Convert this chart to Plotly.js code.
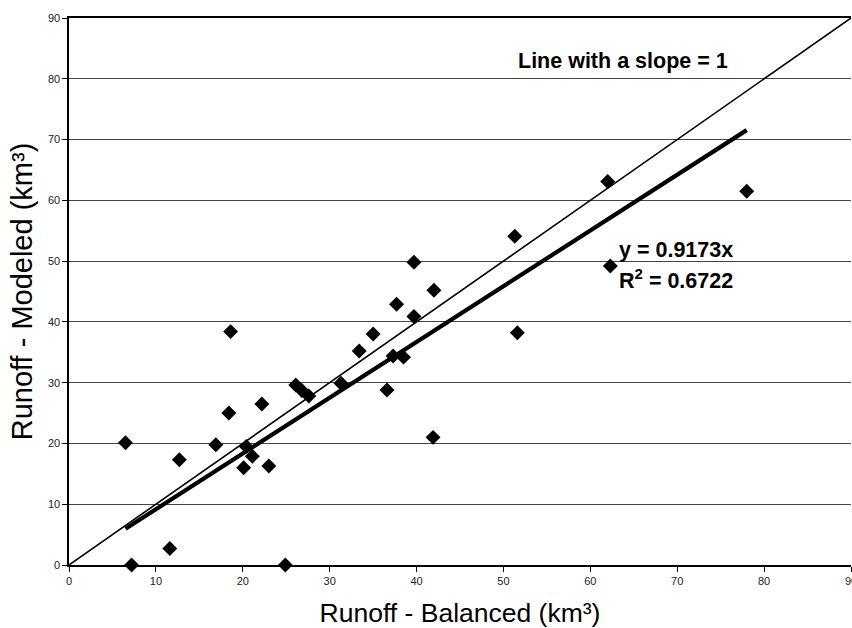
<!DOCTYPE html>
<html>
<head>
<meta charset="utf-8">
<script src="https://cdn.plot.ly/plotly-3.0.1.min.js"></script>
<style>html,body{margin:0;padding:0;background:#fff;}#chart{width:852px;height:628px;}</style>
</head>
<body>
<div id="chart"></div>
<script>
// Runoff values (km³)
const balanced = [6.5, 7.2, 11.6, 12.7, 16.9, 18.4, 18.6, 20.1, 20.4, 21.1, 22.2, 23.0, 24.9, 26.1, 26.8, 27.6, 31.3, 33.4, 35.0, 36.6, 37.3, 37.7, 38.5, 39.7, 39.7, 41.9, 42.0, 51.3, 51.6, 62.0, 62.3, 78.0];
const modeled  = [20.1, 0.0, 2.7, 17.3, 19.8, 25.0, 38.4, 16.0, 19.5, 17.9, 26.5, 16.3, 0.0, 29.6, 28.7, 27.8, 29.9, 35.2, 38.0, 28.8, 34.4, 42.9, 34.2, 40.9, 49.8, 21.0, 45.2, 54.1, 38.2, 63.1, 49.2, 61.5];
const trendSlope = 0.9173;
const rSquared = 0.6722;
const axisMax = 90;
const tickVals = [0, 10, 20, 30, 40, 50, 60, 70, 80, 90];

const xMin = Math.min(...balanced), xMax = Math.max(...balanced);

const traces = [
  { // line with slope 1
    x: [0, axisMax], y: [0, axisMax], mode: 'lines',
    line: {color: '#000', width: 1.6}, hoverinfo: 'skip', showlegend: false
  },
  { // linear trend through origin
    x: [xMin, xMax], y: [trendSlope * xMin, trendSlope * xMax], mode: 'lines',
    line: {color: '#000', width: 4.2}, hoverinfo: 'skip', showlegend: false
  },
  {
    x: balanced, y: modeled, mode: 'markers', type: 'scatter',
    marker: {symbol: 'diamond', size: 11.5, color: '#000'}, showlegend: false, cliponaxis: false
  }
];

const font = 'Liberation Sans, Arial, sans-serif';
const layout = {
  width: 852, height: 628,
  margin: {l: 68.5, r: 0.5, t: 17.5, b: 63},
  paper_bgcolor: '#fff', plot_bgcolor: '#fff',
  font: {family: font, color: '#000'},
  xaxis: {
    range: [0, axisMax], tickvals: tickVals, ticktext: tickVals.map(String),
    showgrid: false, zeroline: false,
    showline: true, linecolor: '#000', linewidth: 1.6, mirror: true,
    ticks: 'outside', ticklen: 5, tickcolor: '#000', tickwidth: 1,
    ticklabeloverflow: 'allow',
    tickfont: {family: font, size: 11, color: '#222'},
    title: {text: 'Runoff - Balanced (km³)', font: {family: font, size: 26.5, color: '#000'}, standoff: 17}
  },
  yaxis: {
    range: [0, axisMax], tickvals: tickVals, ticktext: tickVals.map(String),
    showgrid: true, gridcolor: '#444', gridwidth: 1, zeroline: false,
    showline: true, linecolor: '#000', linewidth: 1.6,
    ticks: 'outside', ticklen: 5, tickcolor: '#000', tickwidth: 1,
    ticklabeloverflow: 'allow',
    tickfont: {family: font, size: 11, color: '#222'},
    title: {text: 'Runoff - Modeled (km³)', font: {family: font, size: 29, color: '#000'}, standoff: 7}
  },
  annotations: [
    {x: 63.8, y: 82.9, xref: 'x', yref: 'y', text: '<b>Line with a slope = 1</b>', showarrow: false,
     font: {family: font, size: 21.5, color: '#000'}, xanchor: 'center', yanchor: 'middle'},
    {x: 63.1, y: 51.9, xref: 'x', yref: 'y', text: '<b>y = ' + trendSlope.toFixed(4) + 'x</b>', showarrow: false,
     font: {family: font, size: 21.5, color: '#000'}, xanchor: 'left', yanchor: 'middle'},
    {x: 63.1, y: 47.0, xref: 'x', yref: 'y', text: '<b>R<sup>2</sup> = ' + rSquared.toFixed(4) + '</b>', showarrow: false,
     font: {family: font, size: 21.5, color: '#000'}, xanchor: 'left', yanchor: 'middle'}
  ]
};

Plotly.newPlot('chart', traces, layout, {displayModeBar: false, staticPlot: true});
</script>
</body>
</html>
